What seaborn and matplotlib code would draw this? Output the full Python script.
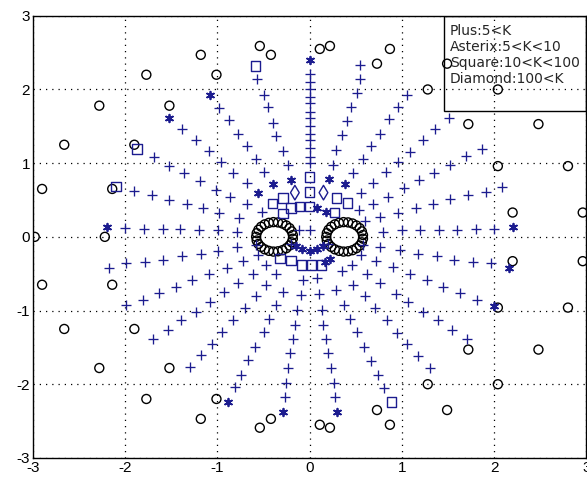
import matplotlib
matplotlib.use("Agg")
import matplotlib.pyplot as plt
import seaborn as sns
import pandas as pd
from matplotlib.patches import Rectangle

# ---------------- data ----------------
plus_pts = [
    # upper left
    (-2.0,0.12),(-1.80,0.11),(-1.59,0.11),(-1.40,0.10),(-1.20,0.09),(-0.99,0.09),(-0.79,0.07),
    (-1.90,0.62),(-1.71,0.57),(-1.52,0.50),(-1.33,0.44),(-1.16,0.39),(-0.98,0.32),(-0.77,0.25),
    (-1.69,1.08),(-1.52,0.96),(-1.36,0.86),(-1.19,0.76),(-1.01,0.64),(-0.86,0.54),(-0.68,0.44),(-0.52,0.34),
    (-1.38,1.46),(-1.23,1.31),(-1.09,1.16),(-0.96,1.02),(-0.83,0.87),(-0.68,0.73),
    (-0.98,1.75),(-0.87,1.58),(-0.78,1.40),(-0.68,1.23),(-0.58,1.06),(-0.49,0.88),
    (-0.57,2.14),(-0.49,1.93),(-0.45,1.76),(-0.40,1.55),(-0.36,1.37),(-0.29,1.16),(-0.24,0.97),
    (0.0,2.21),(0.0,2.10),(0.0,2.01),(0.0,1.90),(0.0,1.81),(0.0,1.70),(0.0,1.61),(0.0,1.50),
    (0.0,1.40),(0.0,1.31),(0.0,1.20),(0.0,1.09),(0.0,1.00),
    # upper right
    (0.55,2.33),(0.55,2.14),(0.51,1.95),(0.45,1.76),(0.40,1.57),(0.35,1.38),(0.29,1.18),(0.25,0.98),
    (1.05,1.92),(0.96,1.76),(0.86,1.60),(0.76,1.40),(0.67,1.23),(0.58,1.05),(0.47,0.87),
    (1.51,1.61),(1.36,1.47),(1.23,1.31),(1.09,1.15),(0.96,1.02),(0.83,0.88),(0.69,0.73),(0.56,0.60),
    (1.87,1.19),(1.69,1.10),(1.52,0.97),(1.35,0.87),(1.18,0.77),(1.02,0.66),(0.85,0.54),(0.69,0.45),(0.53,0.37),
    (2.09,0.68),(1.91,0.61),(1.72,0.57),(1.52,0.51),(1.34,0.44),(1.15,0.39),(0.96,0.32),(0.76,0.27),(0.60,0.22),
    (2.0,0.11),(1.80,0.10),(1.60,0.09),(1.40,0.09),(1.20,0.09),(1.0,0.09),(0.80,0.07),
    # lower left
    (-2.17,-0.42),(-1.99,-0.36),(-1.78,-0.34),(-1.59,-0.31),(-1.38,-0.26),(-1.18,-0.23),(-0.99,-0.19),(-0.79,-0.14),(-0.58,-0.11),
    (-1.99,-0.93),(-1.81,-0.86),(-1.63,-0.76),(-1.45,-0.68),(-1.27,-0.58),(-1.09,-0.50),(-0.90,-0.42),(-0.72,-0.33),(-0.56,-0.25),
    (-1.70,-1.39),(-1.54,-1.27),(-1.39,-1.13),(-1.23,-1.02),(-1.08,-0.88),(-0.93,-0.75),(-0.78,-0.62),(-0.61,-0.50),(-0.47,-0.38),
    (-1.30,-1.77),(-1.18,-1.61),(-1.06,-1.46),(-0.95,-1.29),(-0.83,-1.13),(-0.70,-0.97),(-0.58,-0.80),(-0.47,-0.66),(-0.36,-0.50),
    (-0.81,-2.04),(-0.74,-1.87),(-0.67,-1.67),(-0.59,-1.49),(-0.50,-1.29),(-0.44,-1.12),(-0.37,-0.92),(-0.29,-0.75),
    (-0.27,-2.17),(-0.26,-1.98),(-0.23,-1.78),(-0.21,-1.57),(-0.18,-1.39),(-0.16,-1.20),(-0.14,-0.99),(-0.09,-0.79),(-0.07,-0.59),
    # lower right
    (1.97,-0.36),(1.77,-0.34),(1.57,-0.31),(1.38,-0.26),(1.17,-0.23),(0.98,-0.18),(0.76,-0.14),(0.58,-0.11),
    (1.81,-0.86),(1.63,-0.76),(1.45,-0.68),(1.27,-0.59),(1.09,-0.50),(0.90,-0.41),(0.72,-0.33),(0.56,-0.25),
    (1.71,-1.39),(1.54,-1.27),(1.39,-1.13),(1.23,-1.02),(1.07,-0.88),(0.94,-0.77),(0.76,-0.63),(0.62,-0.50),(0.46,-0.38),
    (1.30,-1.78),(1.17,-1.62),(1.05,-1.46),(0.95,-1.30),(0.84,-1.13),(0.71,-0.97),(0.60,-0.80),(0.47,-0.66),(0.35,-0.47),
    (0.81,-2.05),(0.74,-1.87),(0.66,-1.68),(0.59,-1.49),(0.51,-1.29),(0.44,-1.11),(0.37,-0.93),(0.29,-0.72),
    (0.28,-2.18),(0.26,-1.98),(0.23,-1.78),(0.20,-1.58),(0.18,-1.39),(0.15,-1.20),(0.13,-0.99),(0.10,-0.78),(0.08,-0.56),
    # centre
    (-0.12,0.09),(0.0,0.09),(-0.20,-0.10),(0.20,-0.10),
]
asterisk_pts = [
    (-2.20,0.14),(-1.52,1.61),(-1.08,1.93),(-0.56,0.60),(-0.40,0.72),(-0.20,0.77),(0.0,2.40),
    (0.21,0.78),(0.38,0.72),(2.20,0.14),(2.16,-0.42),(2.0,-0.94),(-0.89,-2.24),(-0.29,-2.38),
    (0.30,-2.38),(0.08,0.39),(0.18,0.34),
    (-0.15,-0.13),(-0.08,-0.17),(0.0,-0.19),(0.08,-0.17),(0.15,-0.13),(0.17,-0.34),(0.22,-0.30),
]
square_pts = [
    (-2.10,0.68),(-1.87,1.19),(-0.59,2.32),(-0.40,0.45),(-0.29,0.53),(-0.20,0.39),(-0.11,0.41),
    (-0.29,0.32),(0.0,0.81),(0.0,0.61),(0.0,0.41),(0.29,0.53),(0.41,0.46),(0.27,0.33),(0.89,-2.24),
    (-0.32,-0.29),(-0.20,-0.32),(-0.09,-0.38),(0.02,-0.38),(0.13,-0.38),
]
diamond_pts = [(-0.16,0.60),(0.15,0.60)]
outer_circle_pts = [
    (-2.98,0.0),(-2.90,0.65),(-2.66,1.25),(-2.28,1.78),(-1.77,2.20),(-1.18,2.47),(-0.54,2.59),
    (0.11,2.55),(0.73,2.35),(1.28,2.00),(1.72,1.53),(2.04,0.96),(2.20,0.33),
    (2.20,-0.33),(2.04,-0.96),(1.72,-1.53),(1.28,-2.00),(0.73,-2.35),(0.11,-2.55),
    (-0.54,-2.59),(-1.18,-2.47),(-1.77,-2.20),(-2.28,-1.78),(-2.66,-1.25),(-2.90,-0.65),
    (-2.22,0.0),(-2.14,0.65),(-1.90,1.25),(-1.52,1.78),(-1.01,2.20),(-0.42,2.47),(0.22,2.59),
    (0.87,2.55),(1.49,2.35),(2.04,2.00),(2.48,1.53),(2.80,0.96),(2.96,0.33),
    (2.96,-0.33),(2.80,-0.96),(2.48,-1.53),(2.04,-2.00),(1.49,-2.35),(0.87,-2.55),(0.22,-2.59),
    (-0.42,-2.47),(-1.01,-2.20),(-1.52,-1.78),(-1.90,-1.25),(-2.14,-0.65),
]
ring_x_left = [-0.580,-0.574,-0.555,-0.526,-0.487,-0.442,-0.393,-0.343,-0.295,-0.253,-0.218,-0.194,-0.182,
               -0.182,-0.194,-0.218,-0.253,-0.295,-0.343,-0.393,-0.442,-0.487,-0.526,-0.555,-0.574]
ring_x_right = [0.180,0.186,0.205,0.234,0.273,0.318,0.367,0.417,0.465,0.507,0.542,0.566,0.578,
                0.578,0.566,0.542,0.507,0.465,0.417,0.367,0.318,0.273,0.234,0.205,0.186]
ring_y = [0.0,0.050,0.096,0.137,0.169,0.190,0.200,0.196,0.181,0.154,0.118,0.074,0.025,
          -0.025,-0.074,-0.118,-0.154,-0.181,-0.196,-0.200,-0.190,-0.169,-0.137,-0.096,-0.050]

ticks = [-3, -2, -1, 0, 1, 2, 3]
legend_lines = ["Plus:5<K", "Asterix:5<K<10", "Square:10<K<100", "Diamond:100<K"]

# ---------------- figure ----------------
sns.set_style("white")
plt.rcParams['font.family'] = ['Liberation Sans', 'DejaVu Sans']

fig = plt.figure(figsize=(5.87, 4.78), dpi=100)
ax = fig.add_axes([0.056, 0.042, 0.943, 0.925])

blue = "#1c1c8f"

def df(pts):
    return pd.DataFrame(pts, columns=["x", "y"])

ring_df = pd.DataFrame({"x": ring_x_left + ring_x_right, "y": ring_y + ring_y})

sns.scatterplot(data=df(outer_circle_pts), x="x", y="y", marker="o", s=42,
                facecolors="none", edgecolor="black", linewidth=1.0, ax=ax, zorder=3)
sns.scatterplot(data=ring_df, x="x", y="y", marker="o", s=42,
                facecolors="none", edgecolor="black", linewidth=1.0, ax=ax, zorder=3)
sns.scatterplot(data=df(plus_pts), x="x", y="y", marker="+", s=50,
                color=blue, linewidth=0.95, ax=ax, zorder=3)
sns.scatterplot(data=df(asterisk_pts), x="x", y="y", marker=(6, 2, 0), s=30,
                color=blue, linewidth=1.3, ax=ax, zorder=3)
sns.scatterplot(data=df(square_pts), x="x", y="y", marker="s", s=46,
                facecolors="none", edgecolor=blue, linewidth=1.0, ax=ax, zorder=3)
sns.scatterplot(data=df(diamond_pts), x="x", y="y", marker="d", s=55,
                facecolors="none", edgecolor=blue, linewidth=1.0, ax=ax, zorder=3)

ax.set_xlim(-3, 3)
ax.set_ylim(-3, 3)
ax.set_xticks(ticks)
ax.set_yticks(ticks)
ax.set_xticklabels([str(t) for t in ticks], fontsize=11)
ax.set_yticklabels([str(t) for t in ticks], fontsize=11)
ax.set_xlabel("")
ax.set_ylabel("")
ax.grid(True, color="black", linestyle=(0, (1, 4)), linewidth=0.9)
ax.tick_params(direction="in", length=5, width=0.8, pad=2, colors="black")
for sp in ax.spines.values():
    sp.set_color("black")
    sp.set_linewidth(1.0)

ax.add_patch(Rectangle((0.743, 0.785), 0.257, 0.215, transform=ax.transAxes,
                       fill=False, edgecolor="black", linewidth=1.0, zorder=5))
ax.text(0.753, 0.982, "\n".join(legend_lines), transform=ax.transAxes,
        ha="left", va="top", fontsize=10, linespacing=1.2, zorder=6,
        family=["DejaVu Sans"])

fig.savefig("out.png", dpi=100)
